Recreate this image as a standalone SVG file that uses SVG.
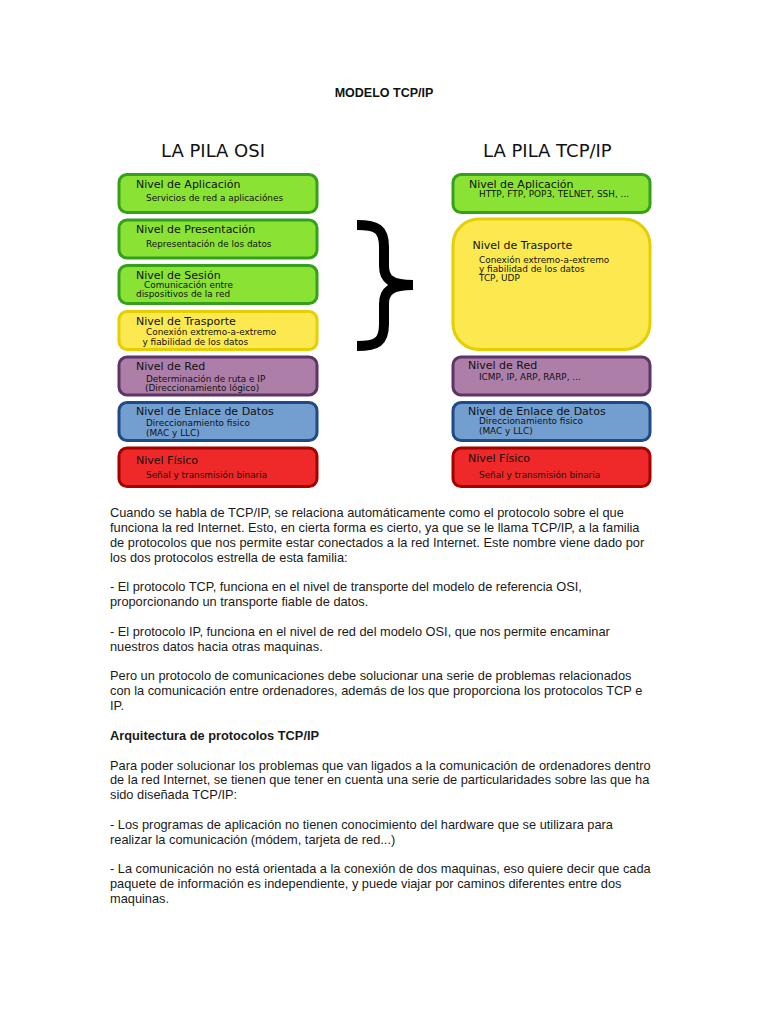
<svg xmlns="http://www.w3.org/2000/svg" width="768" height="1024" viewBox="0 0 768 1024">
<style>
.hd{font-family:"DejaVu Sans",sans-serif;font-size:18px;fill:#111}
.t{font-family:"DejaVu Sans",sans-serif;font-size:11px;fill:#111}
.s{font-family:"DejaVu Sans",sans-serif;font-size:8.9px;fill:#111}
.b{font-family:"Liberation Sans",Arial,sans-serif;font-size:12.8px;fill:#1a1a1a}
.bb{font-family:"Liberation Sans",Arial,sans-serif;font-size:12.8px;font-weight:bold;fill:#1a1a1a}
.g{fill:#8ae234;stroke:#36a01c;stroke-width:3}
.y{fill:#fce94f;stroke:#e6cf00;stroke-width:3}
.p{fill:#ad7fa8;stroke:#5c3566;stroke-width:3}
.bl{fill:#729fcf;stroke:#204a87;stroke-width:3}
.r{fill:#ef2929;stroke:#a40000;stroke-width:3}
</style>
<rect width="768" height="1024" fill="#fff"/>
<text x="384" y="97" text-anchor="middle" font-family="Liberation Sans, Arial, sans-serif" font-size="12.5" font-weight="bold" fill="#111">MODELO TCP/IP</text>
<text class="hd" x="161" y="157">LA PILA OSI</text>
<text class="hd" x="483" y="157">LA PILA TCP/IP</text>

<g id="osi-aplicacion">
<rect class="g" x="119" y="174.5" width="198" height="38" rx="8"/>
<text class="t" x="136" y="188">Nivel de Aplicación</text>
<text class="s" x="146" y="201">Servicios de red a aplicaciónes</text>
</g>
<g id="osi-presentacion">
<rect class="g" x="119" y="220" width="198" height="38" rx="8"/>
<text class="t" x="136" y="233">Nivel de Presentación</text>
<text class="s" x="146" y="247">Representación de los datos</text>
</g>
<g id="osi-sesion">
<rect class="g" x="119" y="265.5" width="198" height="38" rx="8"/>
<text class="t" x="136" y="279">Nivel de Sesión</text>
<text class="s" x="144" y="288">Comunicación entre</text>
<text class="s" x="136" y="297">dispositivos de la red</text>
</g>
<g id="osi-trasporte">
<rect class="y" x="119" y="311.5" width="198" height="38" rx="8"/>
<text class="t" x="136" y="325">Nivel de Trasporte</text>
<text class="s" x="146" y="335">Conexión extremo-a-extremo</text>
<text class="s" x="142.5" y="344.5">y fiabilidad de los datos</text>
</g>
<g id="osi-red">
<rect class="p" x="119" y="357" width="198" height="38" rx="8"/>
<text class="t" x="136" y="369.5">Nivel de Red</text>
<text class="s" x="146" y="381.5">Determinación de ruta e IP</text>
<text class="s" x="145" y="391">(Direccionamiento lógico)</text>
</g>
<g id="osi-enlace">
<rect class="bl" x="119" y="402.5" width="198" height="38" rx="8"/>
<text class="t" x="136" y="415">Nivel de Enlace de Datos</text>
<text class="s" x="146" y="426">Direccionamiento fisico</text>
<text class="s" x="146" y="435.5">(MAC y LLC)</text>
</g>
<g id="osi-fisico">
<rect class="r" x="119" y="448" width="198" height="38.5" rx="8"/>
<text class="t" x="136" y="463.5">Nivel Físico</text>
<text class="s" x="146" y="477.5">Señal y transmisión binaria</text>
</g>

<g id="tcp-aplicacion">
<rect class="g" x="453" y="174.5" width="197" height="38" rx="8"/>
<text class="t" x="469" y="187.5">Nivel de Aplicación</text>
<text class="s" x="479" y="197">HTTP, FTP, POP3, TELNET, SSH, ...</text>
</g>
<g id="tcp-trasporte">
<rect class="y" x="453" y="219" width="197" height="130.5" rx="26"/>
<text class="t" x="472.5" y="248.5">Nivel de Trasporte</text>
<text class="s" x="479" y="263">Conexión extremo-a-extremo</text>
<text class="s" x="479" y="272">y fiabilidad de los datos</text>
<text class="s" x="479" y="281">TCP, UDP</text>
</g>
<g id="tcp-red">
<rect class="p" x="453" y="357" width="197" height="38" rx="8"/>
<text class="t" x="468" y="369">Nivel de Red</text>
<text class="s" x="479" y="379.5">ICMP, IP, ARP, RARP, ...</text>
</g>
<g id="tcp-enlace">
<rect class="bl" x="453" y="402.5" width="197" height="38" rx="8"/>
<text class="t" x="468" y="414.5">Nivel de Enlace de Datos</text>
<text class="s" x="479" y="424">Direccionamiento fisico</text>
<text class="s" x="479" y="433.5">(MAC y LLC)</text>
</g>
<g id="tcp-fisico">
<rect class="r" x="453" y="448" width="197" height="38.5" rx="8"/>
<text class="t" x="468" y="462">Nivel Físico</text>
<text class="s" x="479" y="478">Señal y transmisión binaria</text>
</g>

<g id="connectors">
<path d="M357,225 C377,225 384,229 384,247 L384,266 C384,279 391,285 413,285 C391,285 384,291 384,304 L384,324 C384,342 377,346 357,346" fill="none" stroke="#000" stroke-width="10"/>
</g>

<g id="body">
<text class="b" x="110" y="517">Cuando se habla de TCP/IP, se relaciona automáticamente como el protocolo sobre el que</text>
<text class="b" x="110" y="531.9">funciona la red Internet. Esto, en cierta forma es cierto, ya que se le llama TCP/IP, a la familia</text>
<text class="b" x="110" y="546.7">de protocolos que nos permite estar conectados a la red Internet. Este nombre viene dado por</text>
<text class="b" x="110" y="561.6">los dos protocolos estrella de esta familia:</text>
<text class="b" x="110" y="591.3">- El protocolo TCP, funciona en el nivel de transporte del modelo de referencia OSI,</text>
<text class="b" x="110" y="606.1">proporcionando un transporte fiable de datos.</text>
<text class="b" x="110" y="635.8">- El protocolo IP, funciona en el nivel de red del modelo OSI, que nos permite encaminar</text>
<text class="b" x="110" y="650.7">nuestros datos hacia otras maquinas.</text>
<text class="b" x="110" y="680.4">Pero un protocolo de comunicaciones debe solucionar una serie de problemas relacionados</text>
<text class="b" x="110" y="695.2">con la comunicación entre ordenadores, además de los que proporciona los protocolos TCP e</text>
<text class="b" x="110" y="710.1">IP.</text>
<text class="bb" x="110" y="739.8">Arquitectura de protocolos TCP/IP</text>
<text class="b" x="110" y="769.5">Para poder solucionar los problemas que van ligados a la comunicación de ordenadores dentro</text>
<text class="b" x="110" y="784.3">de la red Internet, se tienen que tener en cuenta una serie de particularidades sobre las que ha</text>
<text class="b" x="110" y="799.2">sido diseñada TCP/IP:</text>
<text class="b" x="110" y="828.9">- Los programas de aplicación no tienen conocimiento del hardware que se utilizara para</text>
<text class="b" x="110" y="843.7">realizar la comunicación (módem, tarjeta de red...)</text>
<text class="b" x="110" y="873.4">- La comunicación no está orientada a la conexión de dos maquinas, eso quiere decir que cada</text>
<text class="b" x="110" y="888.3">paquete de información es independiente, y puede viajar por caminos diferentes entre dos</text>
<text class="b" x="110" y="903.1">maquinas.</text>
</g>
</svg>
